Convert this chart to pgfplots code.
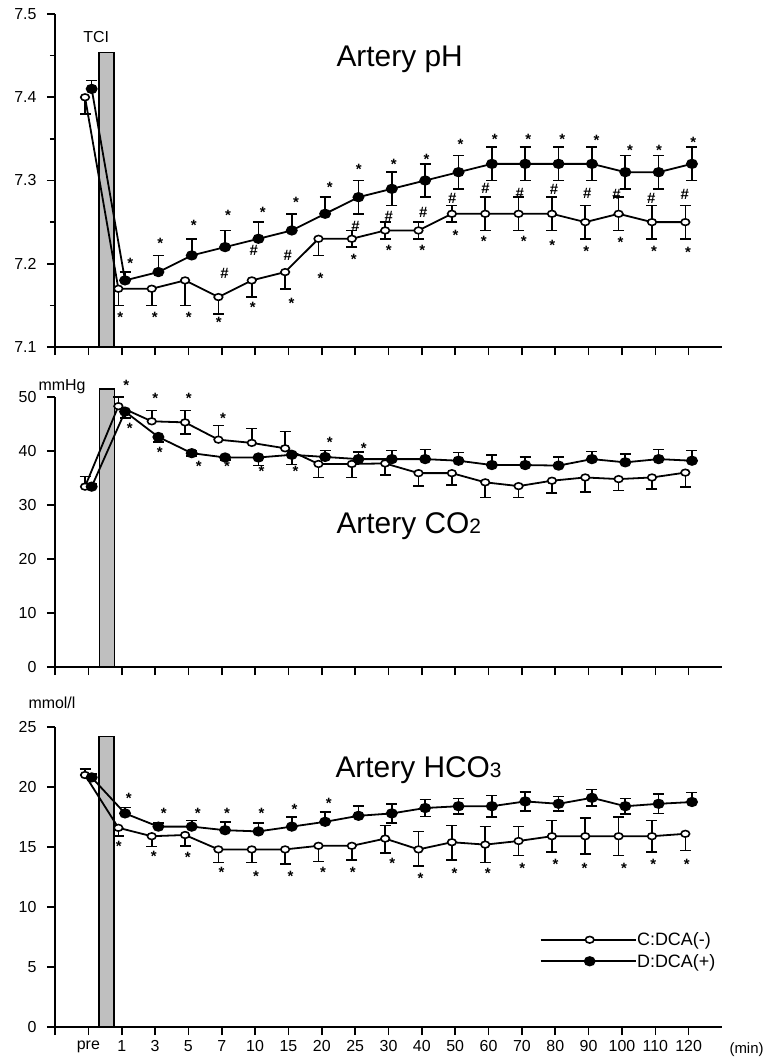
\documentclass[border=0pt]{standalone}
\usepackage{fontspec}
\setmainfont{Liberation Sans}
\usepackage{pgfplots}
\usepackage{pgfplotstable}
\pgfplotsset{compat=1.18}

% columns: x (category index, shifted), y, error up, error down
\pgfplotstableread{
x y ep em
-0.1 7.40 0 0.02
0.9 7.17 0 0.02
1.9 7.17 0 0.02
2.9 7.18 0 0.03
3.9 7.16 0 0.02
4.9 7.18 0 0.02
5.9 7.19 0 0.02
6.9 7.23 0 0.02
7.9 7.23 0.01 0.01
8.9 7.24 0.01 0.01
9.9 7.24 0.01 0.01
10.9 7.26 0.01 0.01
11.9 7.26 0.02 0.02
12.9 7.26 0.02 0.02
13.9 7.26 0.02 0.02
14.9 7.25 0.02 0.02
15.9 7.26 0.02 0.02
16.9 7.25 0.02 0.02
17.9 7.25 0.02 0.02
}\phC
\pgfplotstableread{
x y ep em
0.1 7.41 0.01 0
1.1 7.18 0.01 0
2.1 7.19 0.02 0
3.1 7.21 0.02 0
4.1 7.22 0.02 0
5.1 7.23 0.02 0
6.1 7.24 0.02 0
7.1 7.26 0.02 0
8.1 7.28 0.02 0.02
9.1 7.29 0.02 0.02
10.1 7.30 0.02 0.02
11.1 7.31 0.02 0.02
12.1 7.32 0.02 0.02
13.1 7.32 0.02 0.02
14.1 7.32 0.02 0.02
15.1 7.32 0.02 0.02
16.1 7.31 0.02 0.02
17.1 7.31 0.02 0.02
18.1 7.32 0.02 0.02
}\phD
\pgfplotstableread{
x y ep em
-0.1 33.4 1.9 0
0.9 48.3 1.7 0
1.9 45.5 2.0 0
2.9 45.3 2.2 2.1
3.9 42.1 2.6 0
4.9 41.5 2.7 0
5.9 40.5 3.1 0
6.9 37.6 0 2.5
7.9 37.6 0 2.5
8.9 37.7 0 2.1
9.9 35.9 0 2.4
10.9 35.9 0 2.2
11.9 34.2 0 2.8
12.9 33.5 0 2.1
13.9 34.5 0 2.3
14.9 35.1 0 2.7
15.9 34.8 0 2.1
16.9 35.1 0 2.1
17.9 36.0 0 2.7
}\coC
\pgfplotstableread{
x y ep em
0.1 33.4 0.5 0
1.1 47.3 0 1.2
2.1 42.6 0 0.9
3.1 39.6 0.5 0.5
4.1 38.8 0 0.5
5.1 38.8 0 1.5
6.1 39.3 0 1.8
7.1 38.9 1.2 0
8.1 38.5 1.3 0
9.1 38.5 1.6 0
10.1 38.5 1.8 0
11.1 38.2 1.5 0
12.1 37.4 1.9 0
13.1 37.4 1.5 0
14.1 37.3 1.6 0
15.1 38.5 1.4 0
16.1 37.9 1.6 0
17.1 38.5 1.8 0
18.1 38.2 1.9 0
}\coD
\pgfplotstableread{
x y ep em
-0.1 21.0 0.5 0
0.9 16.6 0 0.7
1.9 15.9 0 0.85
2.9 16.0 0 0.9
3.9 14.8 0 1.1
4.9 14.8 0 1.1
5.9 14.8 0 1.2
6.9 15.1 0 1.3
7.9 15.1 0 1.2
8.9 15.7 1.1 1.2
9.9 14.8 1.5 1.4
10.9 15.4 1.4 1.5
11.9 15.2 1.5 1.5
12.9 15.5 1.2 1.2
13.9 15.9 1.3 1.3
14.9 15.9 1.5 1.5
15.9 15.9 1.6 1.6
16.9 15.9 1.3 1.3
17.9 16.1 0 1.4
}\hcC
\pgfplotstableread{
x y ep em
0.1 20.8 0.3 0
1.1 17.8 0.5 0
2.1 16.7 0.3 0
3.1 16.7 0.5 0
4.1 16.4 0.7 0
5.1 16.3 0.7 0
6.1 16.7 0.8 0
7.1 17.1 0.8 0
8.1 17.6 0.8 0
9.1 17.8 0.8 0.8
10.1 18.25 0.7 0.7
11.1 18.4 0.65 0.65
12.1 18.4 0.9 0.9
13.1 18.8 0.8 0.8
14.1 18.6 0.6 0.6
15.1 19.1 0.7 0.7
16.1 18.4 0.65 0.65
17.1 18.6 0.8 0.8
18.1 18.75 0.8 0
}\hcD

\newcommand\tickfont{\fontsize{16}{19}\selectfont}

\pgfplotsset{
  panel/.style={
    scale only axis, width=667bp, xmin=-1, xmax=19,
    axis lines=left, axis line style={-, line width=1.6bp},
    tick align=outside, major tick length=8bp, minor tick length=5bp,
    tick style={black, line width=1.6bp},
    xtick={-1,0,...,18},
    xticklabel style={font=\tickfont, yshift=-2bp},
    yticklabel style={font=\tickfont, xshift=-7bp},
    /pgf/number format/assume math mode=true,
    clip=false,
  },
  tci/.style={forget plot, draw=black, line width=1.2bp, fill=black!25},
  errs/.style={forget plot, only marks, mark=none,
    error bars/error bar style={black, line width=1.6bp},
    error bars/error mark options={black, line width=1.6bp, mark size=5.5bp, rotate=90}},
  errup/.style={errs, restrict expr to domain={\thisrow{ep}}{0.001:1000},
    error bars/y dir=plus, error bars/y explicit},
  errdn/.style={errs, restrict expr to domain={\thisrow{em}}{0.001:1000},
    error bars/y dir=minus, error bars/y explicit},
  serC/.style={black, line width=1.8bp, mark=*, mark size=3.3bp,
    mark options={fill=white, draw=black, line width=1.6bp, xscale=1.3}},
  serD/.style={black, line width=1.8bp, mark=*, mark size=4.2bp,
    mark options={fill=black, draw=black, xscale=1.2}},
  ast/.style={forget plot, only marks, mark=none, nodes near coords,
    point meta=explicit symbolic,
    nodes near coords style={anchor=base, yshift=-8.5bp, inner sep=0pt,
      font=\fontsize{15}{15}\selectfont\bfseries}},
  hsh/.style={forget plot, only marks, mark=none, nodes near coords,
    point meta=explicit symbolic,
    nodes near coords style={anchor=base, yshift=-5bp, inner sep=0pt,
      font=\fontsize{15}{15}\selectfont\bfseries}},
}

\begin{document}
\begin{tikzpicture}
\useasboundingbox (0,0) rectangle (764bp,-1058bp);

% ---------------- Artery pH
\begin{axis}[panel, at={(55bp,-347bp)}, anchor=south west, height=333bp,
  ymin=7.1, ymax=7.5, ytick={7.1,7.2,7.3,7.4,7.5},
  minor ytick={7.15,7.25,7.35,7.45}, xticklabels={},
  yticklabel style={/pgf/number format/fixed, /pgf/number format/fixed zerofill,
    /pgf/number format/precision=1}]
  \addplot[tci] coordinates {(0.32,7.1) (0.32,7.454) (0.77,7.454) (0.77,7.1) (0.32,7.1)};
  \addplot[errup] table[x=x, y=y, y error plus=ep] \phC;
  \addplot[errdn] table[x=x, y=y, y error minus=em] \phC;
  \addplot[errup] table[x=x, y=y, y error plus=ep] \phD;
  \addplot[errdn] table[x=x, y=y, y error minus=em] \phD;
  \addplot[serC] table[x=x, y=y] \phC;
  \addplot[serD] table[x=x, y=y] \phD;
  \addplot[ast] coordinates {
    (1.26,7.205)[*] (2.16,7.228)[*] (3.16,7.250)[*] (4.19,7.262)[*] (5.23,7.266)[*]
    (6.23,7.278)[*] (7.24,7.296)[*] (8.11,7.318)[*] (9.16,7.324)[*] (10.14,7.330)[*]
    (11.16,7.347)[*] (12.19,7.353)[*] (13.19,7.353)[*] (14.21,7.353)[*] (15.24,7.352)[*]
    (16.24,7.340)[*] (17.11,7.340)[*] (18.14,7.350)[*]
    (0.96,7.140)[*] (1.99,7.140)[*] (3.01,7.140)[*] (3.91,7.134)[*] (4.93,7.152)[*]
    (6.09,7.157)[*] (6.96,7.186)[*] (7.96,7.209)[*] (9.01,7.220)[*] (10.01,7.220)[*]
    (11.01,7.238)[*] (11.86,7.231)[*] (13.06,7.231)[*] (13.91,7.226)[*] (14.93,7.219)[*]
    (15.96,7.230)[*] (16.96,7.219)[*] (17.98,7.218)[*]};
  \addplot[hsh] coordinates {
    (4.08,7.188)[\#] (4.96,7.216)[\#] (5.98,7.210)[\#] (8.01,7.245)[\#] (9.01,7.257)[\#]
    (10.04,7.262)[\#] (10.91,7.278)[\#] (11.91,7.290)[\#] (12.94,7.284)[\#] (13.96,7.289)[\#]
    (14.96,7.284)[\#] (15.84,7.283)[\#] (16.88,7.278)[\#] (17.88,7.283)[\#]};
  \node[font=\fontsize{30}{36}\selectfont, anchor=base west] at (rel axis cs:0.4168,0.841) {Artery pH};
  \node[font=\fontsize{16}{18}\selectfont, anchor=base] at (axis cs:0.234,7.466) {TCI};
\end{axis}

% ---------------- Artery CO2
\begin{axis}[panel, at={(55bp,-667bp)}, anchor=south west, height=270bp,
  ymin=0, ymax=50, ytick={0,10,...,50}, xticklabels={}]
  \addplot[tci] coordinates {(0.33,0) (0.33,51.5) (0.79,51.5) (0.79,0) (0.33,0)};
  \addplot[errup] table[x=x, y=y, y error plus=ep] \coC;
  \addplot[errdn] table[x=x, y=y, y error minus=em] \coC;
  \addplot[errup] table[x=x, y=y, y error plus=ep] \coD;
  \addplot[errdn] table[x=x, y=y, y error minus=em] \coD;
  \addplot[serC] table[x=x, y=y] \coC;
  \addplot[serD] table[x=x, y=y] \coD;
  \addplot[ast] coordinates {
    (1.14,52.8)[*] (2.01,50.4)[*] (3.01,50.4)[*] (4.04,46.7)[*] (7.24,42.2)[*] (8.26,41.2)[*]
    (1.24,44.8)[*] (2.14,40.3)[*] (3.31,37.8)[*] (4.16,37.7)[*] (5.19,36.8)[*] (6.21,36.8)[*]};
  \node[font=\fontsize{30}{36}\selectfont, anchor=base west] at (rel axis cs:0.4168,0.496)
    {Artery CO{\fontsize{21}{21}\selectfont 2}};
\end{axis}

% ---------------- Artery HCO3
\begin{axis}[panel, at={(55bp,-1027bp)}, anchor=south west, height=300bp,
  ymin=0, ymax=25, ytick={0,5,...,25},
  xticklabels={,pre,1,3,5,7,10,15,20,25,30,40,50,60,70,80,90,100,110,120},
  legend style={at={(axis cs:13.53,6.375)}, anchor=west, draw=none, fill=none,
    inner sep=0pt, row sep=6bp, font=\fontsize{18}{20}\selectfont,
    nodes={inner sep=0.5bp}},
  legend cell align=left,
  legend image code/.code={\draw[mark repeat=2, mark phase=2, #1]
    plot coordinates {(0bp,0bp) (49bp,0bp) (95bp,0bp)};}]
  \addplot[tci] coordinates {(0.32,0) (0.32,24.2) (0.77,24.2) (0.77,0) (0.32,0)};
  \addplot[errup] table[x=x, y=y, y error plus=ep] \hcC;
  \addplot[errdn] table[x=x, y=y, y error minus=em] \hcC;
  \addplot[errup] table[x=x, y=y, y error plus=ep] \hcD;
  \addplot[errdn] table[x=x, y=y, y error minus=em] \hcD;
  \addplot[serC] table[x=x, y=y] \hcC;
  \addplot[serD] table[x=x, y=y] \hcD;
  \addplot[ast] coordinates {
    (1.21,19.3)[*] (2.26,18.1)[*] (3.28,18.1)[*] (4.16,18.1)[*] (5.19,18.1)[*] (6.18,18.4)[*]
    (7.21,18.9)[*]
    (0.91,15.3)[*] (1.96,14.5)[*] (2.98,14.4)[*] (3.99,13.2)[*] (5.03,12.8)[*] (6.06,12.8)[*]
    (7.04,13.2)[*] (7.93,13.2)[*] (9.11,13.9)[*] (9.96,12.7)[*] (10.98,13.1)[*] (11.98,13.1)[*]
    (13.01,13.5)[*] (14.01,13.8)[*] (14.88,13.5)[*] (16.06,13.5)[*] (16.94,13.8)[*] (17.94,13.8)[*]};
  \node[font=\fontsize{30}{36}\selectfont, anchor=base west] at (rel axis cs:0.4153,0.833)
    {Artery HCO{\fontsize{21}{21}\selectfont 3}};
  \legend{C:DCA(-),D:DCA(+)}
\end{axis}

\node[font=\fontsize{16}{18}\selectfont, anchor=base west] at (35bp,-390bp) {mmHg};
\node[font=\fontsize{16}{18}\selectfont, anchor=base west] at (25bp,-708bp) {mmol/l};
\node[font=\fontsize{15}{18}\selectfont, anchor=base west] at (726bp,-1053bp) {(min)};
\end{tikzpicture}
\end{document}
